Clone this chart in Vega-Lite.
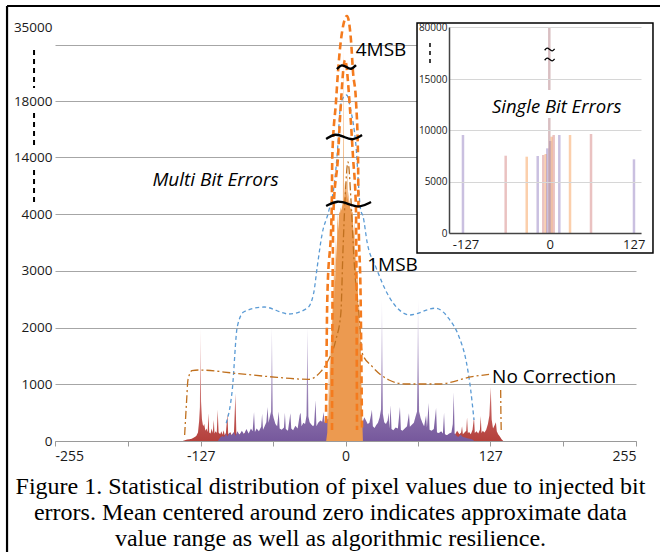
{
  "$schema": "https://vega.github.io/schema/vega-lite/v6.json",
  "width": 581,
  "height": 427,
  "padding": {"left": 55, "top": 14, "right": 24, "bottom": 111},
  "autosize": {"type": "none"},
  "background": "white",
  "config": {"view": {"stroke": null}, "font": "Open Sans", "axis": {"labelFont": "Open Sans"}},
  "title": {
    "text": ["Figure 1. Statistical distribution of pixel values due to injected bit", "errors. Mean centered around zero indicates approximate data", "value range as well as algorithmic resilience."],
    "orient": "bottom", "frame": "group", "anchor": "middle", "offset": -78, "dx": -15,
    "font": "Liberation Serif", "fontSize": 24, "fontWeight": "normal", "color": "black", "lineHeight": 26, "baseline": "top"
  },
  "datasets": {
    "red": [
      {"x": -143, "y": 0}, {"x": -141, "y": 15}, {"x": -139, "y": 25}, {"x": -137, "y": 30}, {"x": -135, "y": 40}, {"x": -133, "y": 60}, {"x": -131, "y": 90}, {"x": -129.5, "y": 150}, {"x": -128.5, "y": 350}, {"x": -127.8, "y": 600}, {"x": -127.3, "y": 2000}, {"x": -126.8, "y": 700}, {"x": -126, "y": 380}, {"x": -125, "y": 260}, {"x": -124, "y": 300}, {"x": -123, "y": 180}, {"x": -122, "y": 220}, {"x": -121, "y": 160}, {"x": -120.3, "y": 490}, {"x": -119.6, "y": 150}, {"x": -118.5, "y": 130}, {"x": -117.5, "y": 220}, {"x": -116.5, "y": 140}, {"x": -115.6, "y": 370}, {"x": -115, "y": 130}, {"x": -114, "y": 170}, {"x": -113, "y": 140}, {"x": -112.2, "y": 550}, {"x": -111.4, "y": 150}, {"x": -110, "y": 120}, {"x": -109, "y": 170}, {"x": -108, "y": 110}, {"x": -107, "y": 190}, {"x": -106, "y": 100}, {"x": -105, "y": 140}, {"x": -103.6, "y": 490}, {"x": -103, "y": 130}, {"x": -102, "y": 110}, {"x": -101, "y": 160}, {"x": -100, "y": 100}, {"x": -99, "y": 130}, {"x": -98, "y": 110}, {"x": -96.6, "y": 840}, {"x": -95.8, "y": 120}, {"x": -94, "y": 100}, {"x": -92, "y": 130}, {"x": -90, "y": 110}, {"x": -88, "y": 150}, {"x": -87, "y": 190}, {"x": -86, "y": 100}, {"x": -84, "y": 120}, {"x": -82, "y": 90}, {"x": -80, "y": 80}, {"x": -70, "y": 80}, {"x": -60, "y": 80}, {"x": -50, "y": 90}, {"x": -40, "y": 80}, {"x": -30, "y": 90}, {"x": -20, "y": 100}, {"x": 0, "y": 100}, {"x": 20, "y": 90}, {"x": 40, "y": 80}, {"x": 60, "y": 90}, {"x": 80, "y": 100}, {"x": 84, "y": 120}, {"x": 86, "y": 90}, {"x": 88, "y": 110}, {"x": 90, "y": 90}, {"x": 92, "y": 120}, {"x": 94, "y": 150}, {"x": 96, "y": 110}, {"x": 98, "y": 180}, {"x": 100, "y": 120}, {"x": 101.5, "y": 150}, {"x": 102.3, "y": 260}, {"x": 103, "y": 120}, {"x": 104.5, "y": 150}, {"x": 106, "y": 180}, {"x": 106.7, "y": 420}, {"x": 107.4, "y": 140}, {"x": 108.5, "y": 160}, {"x": 110, "y": 120}, {"x": 111.5, "y": 200}, {"x": 112.8, "y": 420}, {"x": 113.5, "y": 140}, {"x": 115, "y": 170}, {"x": 116.5, "y": 130}, {"x": 118, "y": 200}, {"x": 118.7, "y": 440}, {"x": 119.4, "y": 140}, {"x": 120.5, "y": 180}, {"x": 122, "y": 150}, {"x": 123.5, "y": 200}, {"x": 125, "y": 300}, {"x": 126.3, "y": 450}, {"x": 127.5, "y": 950}, {"x": 128.3, "y": 380}, {"x": 129.5, "y": 220}, {"x": 131, "y": 280}, {"x": 132, "y": 330}, {"x": 132.8, "y": 170}, {"x": 134, "y": 120}, {"x": 135.5, "y": 80}, {"x": 137, "y": 30}, {"x": 138.5, "y": 0}
    ],
    "purple": [
      {"x": -112, "y": 0}, {"x": -110, "y": 60}, {"x": -108, "y": 90}, {"x": -106.5, "y": 70}, {"x": -105, "y": 130}, {"x": -103.5, "y": 80}, {"x": -102, "y": 150}, {"x": -100, "y": 100}, {"x": -98, "y": 160}, {"x": -96.5, "y": 90}, {"x": -95, "y": 170}, {"x": -93, "y": 110}, {"x": -91, "y": 180}, {"x": -89, "y": 120}, {"x": -87, "y": 210}, {"x": -85, "y": 130}, {"x": -83, "y": 220}, {"x": -81.5, "y": 170}, {"x": -80.3, "y": 510}, {"x": -79.5, "y": 160}, {"x": -78, "y": 220}, {"x": -76, "y": 170}, {"x": -74, "y": 250}, {"x": -73.2, "y": 480}, {"x": -72.4, "y": 200}, {"x": -71, "y": 260}, {"x": -69.5, "y": 330}, {"x": -68.4, "y": 600}, {"x": -67.6, "y": 320}, {"x": -66.5, "y": 420}, {"x": -65.3, "y": 520}, {"x": -64.6, "y": 2000}, {"x": -63.9, "y": 480}, {"x": -63, "y": 400}, {"x": -61.5, "y": 300}, {"x": -60, "y": 260}, {"x": -58.6, "y": 520}, {"x": -57.8, "y": 220}, {"x": -56, "y": 200}, {"x": -54, "y": 240}, {"x": -53.2, "y": 500}, {"x": -52.4, "y": 210}, {"x": -50.5, "y": 180}, {"x": -48.4, "y": 490}, {"x": -47.6, "y": 220}, {"x": -46, "y": 190}, {"x": -44, "y": 270}, {"x": -42, "y": 220}, {"x": -40.2, "y": 460}, {"x": -39.4, "y": 500}, {"x": -38.6, "y": 260}, {"x": -37, "y": 320}, {"x": -35.5, "y": 300}, {"x": -34.2, "y": 450}, {"x": -33.4, "y": 2000}, {"x": -32.6, "y": 430}, {"x": -31.5, "y": 330}, {"x": -30, "y": 290}, {"x": -28.5, "y": 260}, {"x": -27.6, "y": 280}, {"x": -26.3, "y": 720}, {"x": -25.5, "y": 260}, {"x": -24, "y": 320}, {"x": -22, "y": 360}, {"x": -20.5, "y": 340}, {"x": -19.2, "y": 510}, {"x": -18.4, "y": 320}, {"x": -17, "y": 420}, {"x": -15.5, "y": 380}, {"x": -14, "y": 400}, {"x": 0, "y": 400}, {"x": 14, "y": 360}, {"x": 15, "y": 330}, {"x": 16.5, "y": 420}, {"x": 18, "y": 360}, {"x": 19.5, "y": 300}, {"x": 21, "y": 320}, {"x": 22.4, "y": 460}, {"x": 23.2, "y": 550}, {"x": 24, "y": 260}, {"x": 25.5, "y": 230}, {"x": 27, "y": 280}, {"x": 28.5, "y": 320}, {"x": 30, "y": 420}, {"x": 31.2, "y": 560}, {"x": 32, "y": 2500}, {"x": 32.8, "y": 480}, {"x": 34, "y": 330}, {"x": 35.5, "y": 300}, {"x": 37, "y": 360}, {"x": 37.8, "y": 500}, {"x": 38.6, "y": 220}, {"x": 39.6, "y": 630}, {"x": 40.4, "y": 210}, {"x": 42, "y": 190}, {"x": 44, "y": 240}, {"x": 46, "y": 220}, {"x": 47.8, "y": 600}, {"x": 48.6, "y": 200}, {"x": 50, "y": 180}, {"x": 52, "y": 220}, {"x": 54, "y": 260}, {"x": 55.7, "y": 490}, {"x": 56.5, "y": 250}, {"x": 58, "y": 280}, {"x": 60, "y": 320}, {"x": 61.5, "y": 430}, {"x": 62.8, "y": 520}, {"x": 63.7, "y": 2500}, {"x": 64.6, "y": 520}, {"x": 66, "y": 400}, {"x": 67.5, "y": 320}, {"x": 69, "y": 260}, {"x": 70.7, "y": 450}, {"x": 71.5, "y": 240}, {"x": 73, "y": 670}, {"x": 73.8, "y": 200}, {"x": 75.5, "y": 180}, {"x": 77.5, "y": 210}, {"x": 79.5, "y": 580}, {"x": 80.3, "y": 150}, {"x": 82, "y": 140}, {"x": 84, "y": 170}, {"x": 85.5, "y": 130}, {"x": 86.5, "y": 500}, {"x": 87.3, "y": 120}, {"x": 89, "y": 100}, {"x": 91, "y": 130}, {"x": 93, "y": 150}, {"x": 94.2, "y": 300}, {"x": 95, "y": 860}, {"x": 95.8, "y": 130}, {"x": 97.5, "y": 90}, {"x": 99, "y": 70}, {"x": 101, "y": 110}, {"x": 103, "y": 70}, {"x": 105, "y": 60}, {"x": 107, "y": 50}, {"x": 109, "y": 40}, {"x": 111, "y": 30}, {"x": 113, "y": 0}
    ],
    "orange": [
      {"x": -17, "y": 0}, {"x": -16, "y": 150}, {"x": -15.5, "y": 600}, {"x": -15.1, "y": 350}, {"x": -14.6, "y": 1200}, {"x": -14.1, "y": 700}, {"x": -13.6, "y": 1800}, {"x": -13.1, "y": 1200}, {"x": -12.6, "y": 2200}, {"x": -12.1, "y": 1500}, {"x": -11.6, "y": 2600}, {"x": -11.1, "y": 2000}, {"x": -10.6, "y": 3000}, {"x": -10.1, "y": 2400}, {"x": -9.6, "y": 3300}, {"x": -9.1, "y": 2800}, {"x": -8.4, "y": 3600}, {"x": -7.7, "y": 3200}, {"x": -7, "y": 4100}, {"x": -6.3, "y": 3700}, {"x": -5.6, "y": 4500}, {"x": -4.9, "y": 4000}, {"x": -4.2, "y": 5200}, {"x": -3.5, "y": 4600}, {"x": -2.8, "y": 6000}, {"x": -2.3, "y": 5200}, {"x": -1.9, "y": 30000}, {"x": -1.5, "y": 6000}, {"x": -1, "y": 7500}, {"x": -0.5, "y": 9500}, {"x": 0, "y": 8000}, {"x": 0.5, "y": 10000}, {"x": 1, "y": 7000}, {"x": 1.5, "y": 12000}, {"x": 2, "y": 6500}, {"x": 2.5, "y": 8000}, {"x": 3, "y": 5500}, {"x": 3.5, "y": 6500}, {"x": 4.2, "y": 4800}, {"x": 4.9, "y": 5200}, {"x": 5.6, "y": 4200}, {"x": 6.3, "y": 4400}, {"x": 7, "y": 3600}, {"x": 7.7, "y": 3900}, {"x": 8.4, "y": 3100}, {"x": 9.1, "y": 3400}, {"x": 9.8, "y": 2700}, {"x": 10.5, "y": 3000}, {"x": 11.2, "y": 2300}, {"x": 11.9, "y": 2500}, {"x": 12.6, "y": 1700}, {"x": 13.3, "y": 1900}, {"x": 13.8, "y": 1100}, {"x": 14.3, "y": 700}, {"x": 14.8, "y": 300}, {"x": 15.3, "y": 0}
    ],
    "curves": [
      {"c": "o1", "x": -17.1, "y": 317}, {"c": "o1", "x": -16, "y": 2485}, {"c": "o1", "x": -12.1, "y": 4702}, {"c": "o1", "x": -11.6, "y": 14000}, {"c": "o1", "x": -8.3, "y": 18000}, {"c": "o1", "x": -6.6, "y": 24667}, {"c": "o1", "x": -4, "y": 32023}, {"c": "o1", "x": 1.3, "y": 37540}, {"c": "o1", "x": 4.8, "y": 32023}, {"c": "o1", "x": 6.6, "y": 24667}, {"c": "o1", "x": 9.2, "y": 18000}, {"c": "o1", "x": 11, "y": 14000}, {"c": "o1", "x": 11.4, "y": 4702}, {"c": "o1", "x": 13.3, "y": 2485}, {"c": "o1", "x": 14.5, "y": 194},
      {"c": "o2", "x": -11.85, "y": 194}, {"c": "o2", "x": -11.4, "y": 2485}, {"c": "o2", "x": -10.5, "y": 4702}, {"c": "o2", "x": -6.6, "y": 14000}, {"c": "o2", "x": -4.4, "y": 17357}, {"c": "o2", "x": -0.4, "y": 27425}, {"c": "o2", "x": 4, "y": 17357}, {"c": "o2", "x": 6.6, "y": 14000}, {"c": "o2", "x": 9.2, "y": 4702}, {"c": "o2", "x": 9.7, "y": 2485}, {"c": "o2", "x": 10.1, "y": 194},
      {"c": "b", "x": -104.7, "y": 312}, {"c": "b", "x": -99.4, "y": 899}, {"c": "b", "x": -95, "y": 2014}, {"c": "b", "x": -89.1, "y": 2278}, {"c": "b", "x": -71.5, "y": 2361}, {"c": "b", "x": -49.6, "y": 2238}, {"c": "b", "x": -33.6, "y": 2340}, {"c": "b", "x": -28, "y": 2600}, {"c": "b", "x": -24.8, "y": 3071}, {"c": "b", "x": -20.4, "y": 3660}, {"c": "b", "x": -15, "y": 4300}, {"c": "b", "x": -10, "y": 9000}, {"c": "b", "x": -7, "y": 14500}, {"c": "b", "x": -4.8, "y": 17357}, {"c": "b", "x": -2, "y": 18800}, {"c": "b", "x": 1, "y": 19379}, {"c": "b", "x": 4.6, "y": 17357}, {"c": "b", "x": 9, "y": 14979}, {"c": "b", "x": 13.3, "y": 4702}, {"c": "b", "x": 15.4, "y": 3960}, {"c": "b", "x": 19.1, "y": 3489}, {"c": "b", "x": 26.5, "y": 3071}, {"c": "b", "x": 38.2, "y": 2543}, {"c": "b", "x": 51.4, "y": 2250}, {"c": "b", "x": 56.2, "y": 2220}, {"c": "b", "x": 78.9, "y": 2340}, {"c": "b", "x": 91, "y": 2150}, {"c": "b", "x": 99.6, "y": 1838}, {"c": "b", "x": 106, "y": 1400}, {"c": "b", "x": 109.9, "y": 899}, {"c": "b", "x": 112.8, "y": 370},
      {"c": "n", "x": -141.2, "y": 106}, {"c": "n", "x": -139.5, "y": 700}, {"c": "n", "x": -138.3, "y": 1075}, {"c": "n", "x": -134.8, "y": 1239}, {"c": "n", "x": -128.7, "y": 1251}, {"c": "n", "x": -96.6, "y": 1193}, {"c": "n", "x": -67.1, "y": 1134}, {"c": "n", "x": -32, "y": 1087}, {"c": "n", "x": -21.7, "y": 1222}, {"c": "n", "x": -15.8, "y": 1397}, {"c": "n", "x": -8.5, "y": 1780}, {"c": "n", "x": -4.1, "y": 2250}, {"c": "n", "x": -2.2, "y": 3366}, {"c": "n", "x": -0.4, "y": 6456}, {"c": "n", "x": 2.2, "y": 13122}, {"c": "n", "x": 4.8, "y": 6456}, {"c": "n", "x": 7.5, "y": 3190}, {"c": "n", "x": 11.9, "y": 2220}, {"c": "n", "x": 14.7, "y": 1545}, {"c": "n", "x": 23.5, "y": 1310}, {"c": "n", "x": 38.2, "y": 1075}, {"c": "n", "x": 52.8, "y": 1004}, {"c": "n", "x": 82, "y": 1004}, {"c": "n", "x": 111.3, "y": 1134}, {"c": "n", "x": 126, "y": 1175},
      {"c": "nB", "x": 136.2, "y": 900}, {"c": "nB", "x": 136.4, "y": 500}, {"c": "nB", "x": 136.7, "y": 160}
    ],
    "squig": [
      {"id": 1, "x": -7.5, "y": 25340}, {"id": 1, "x": -3.3, "y": 26500}, {"id": 1, "x": 0.85, "y": 25800}, {"id": 1, "x": 5, "y": 25100}, {"id": 1, "x": 9.2, "y": 26260},
      {"id": 2, "x": -17, "y": 15290}, {"id": 2, "x": -9.1, "y": 15700}, {"id": 2, "x": -1.25, "y": 15429}, {"id": 2, "x": 6.6, "y": 15160}, {"id": 2, "x": 14.5, "y": 15570},
      {"id": 3, "x": -17, "y": 5400}, {"id": 3, "x": -7.15, "y": 6450}, {"id": 3, "x": 2.7, "y": 5754}, {"id": 3, "x": 12.55, "y": 5050}, {"id": 3, "x": 22.4, "y": 6100}
    ],
    "breaks": [
      {"x": -273.4, "y": 29720, "y2": 20990}, {"x": -273.4, "y": 17140, "y2": 14786}, {"x": -273.4, "y": 11720, "y2": 5754}
    ],
    "frame": [
      {"x": -297.1, "x2": -297.1, "y": 39839, "y2": -1960}, {"x": -297.1, "x2": 277, "y": 39839, "y2": 39839}
    ],
    "ann": [
      {"label": "4MSB", "x": 31.2, "y": 29724}, {"label": "1MSB", "x": 41.3, "y": 3101}, {"label": "No Correction", "x": 183.1, "y": 1128}
    ],
    "annItalic": [
      {"label": "Multi Bit Errors", "x": -114.1, "y": 9965}
    ],
    "iframe": [
      {"x": -200.3, "x2": 156.1, "y": 85000, "y2": -1948}
    ],
    "ibars": [
      {"x": -130.9, "y": 0, "y2": 9545, "s": "1msb"}, {"x": -66.4, "y": 0, "y2": 7529, "s": "nc"}, {"x": -34.6, "y": 0, "y2": 7432, "s": "4msb"}, {"x": -18, "y": 0, "y2": 7500, "s": "1msb"}, {"x": -9.6, "y": 0, "y2": 7597, "s": "nc"}, {"x": -5.9, "y": 0, "y2": 7695, "s": "4msb"}, {"x": -3.5, "y": 0, "y2": 8247, "s": "1msb"}, {"x": 1, "y": 0, "y2": 8961, "s": "1msb"}, {"x": 3.1, "y": 0, "y2": 9380, "s": "4msb"}, {"x": 6.1, "y": 0, "y2": 9545, "s": "nc"}, {"x": 14.6, "y": 0, "y2": 9545, "s": "1msb"}, {"x": 30.8, "y": 0, "y2": 9545, "s": "4msb"}, {"x": 62.5, "y": 0, "y2": 9643, "s": "nc"}, {"x": 127.4, "y": 0, "y2": 7176, "s": "1msb"},
      {"x": -0.5, "y": 0, "y2": 11201, "s": "c"}, {"x": -0.5, "y": 13929, "y2": 80000, "s": "c"}
    ],
    "isquig": [
      {"id": 1, "x": -7.5, "y": 51000}, {"id": 1, "x": -3.75, "y": 54500}, {"id": 1, "x": 0, "y": 51875}, {"id": 1, "x": 3.75, "y": 49000}, {"id": 1, "x": 7.5, "y": 52700},
      {"id": 2, "x": -7.5, "y": 38500}, {"id": 2, "x": -3.75, "y": 42000}, {"id": 2, "x": 0, "y": 39375}, {"id": 2, "x": 3.75, "y": 36500}, {"id": 2, "x": 7.5, "y": 40200}
    ],
    "ibreak": [
      {"x": -180.7, "y": 60000, "y2": 35000}
    ],
    "ilabel": [
      {"label": "Single Bit Errors", "x": 10.7, "y": 12302}
    ]
  },
  "layer": [
    {
      "layer": [
        {
          "data": {"name": "red"},
          "mark": {"type": "area", "color": {"gradient": "linear", "x1": 0, "y1": 1, "x2": 0, "y2": 0, "stops": [{"offset": 0, "color": "#b4403c"}, {"offset": 0.25, "color": "#c25a57"}, {"offset": 1, "color": "#f2d4d3"}]}},
          "encoding": {
            "x": {"field": "x", "type": "quantitative", "title": null,
              "scale": {"domain": [-255, 255], "nice": false, "zero": false},
              "axis": {"values": [-255, -191, -127, -64, 0, 64, 127, 191, 255], "labelExpr": "datum.value == -191 || datum.value == -64 || datum.value == 64 || datum.value == 191 ? '' : (datum.value < 0 ? '-' + abs(datum.value) : '' + datum.value)", "grid": false, "domain": true, "domainColor": "#9a9a9a", "ticks": true, "tickSize": 5, "tickColor": "#9a9a9a", "labelFontSize": 14, "labelColor": "#1a1a1a", "labelPadding": 3, "labelFlush": true, "labelOverlap": false}},
            "y": {"field": "y", "type": "quantitative", "title": null, "stack": null,
              "scale": {"domain": [0, 4000, 14000, 18000, 38000], "range": [427, 200, 143, 87, 0], "nice": false, "zero": false},
              "axis": {"values": [0, 1000, 2000, 3000, 4000, 14000, 18000, 30865, 35000], "format": "d", "labelExpr": "datum.value > 30000 && datum.value < 31000 ? '' : datum.label", "grid": true, "gridColor": {"condition": {"test": "datum.value == 35000", "value": "transparent"}, "value": "#a6a6a6"}, "domain": false, "ticks": false, "labelFontSize": 13.5, "labelColor": "#1a1a1a", "labelPadding": 3, "labelOverlap": false}}
          }
        },
        {
          "data": {"name": "purple"},
          "mark": {"type": "area", "color": {"gradient": "linear", "x1": 0, "y1": 1, "x2": 0, "y2": 0, "stops": [{"offset": 0, "color": "#76589c"}, {"offset": 0.2, "color": "#8a70ab"}, {"offset": 1, "color": "#e4dcef"}]}},
          "encoding": {
            "x": {"field": "x", "type": "quantitative", "title": null},
            "y": {"field": "y", "type": "quantitative", "title": null, "stack": null}
          }
        },
        {
          "data": {"name": "orange"},
          "mark": {"type": "area", "color": "#ec9a50"},
          "encoding": {
            "x": {"field": "x", "type": "quantitative", "title": null},
            "y": {"field": "y", "type": "quantitative", "title": null, "stack": null}
          }
        },
        {
          "data": {"name": "curves"},
          "transform": [{"filter": "datum.c == 'b'"}],
          "mark": {"type": "line", "color": "#5b9bd5", "strokeWidth": 1.3, "strokeDash": [4, 3], "interpolate": "monotone"},
          "encoding": {
            "x": {"field": "x", "type": "quantitative", "title": null},
            "y": {"field": "y", "type": "quantitative", "title": null}
          }
        },
        {
          "data": {"name": "curves"},
          "transform": [{"filter": "datum.c == 'n'"}],
          "mark": {"type": "line", "color": "#c0701e", "strokeWidth": 1.3, "strokeDash": [8, 3, 2, 3], "interpolate": "monotone"},
          "encoding": {
            "x": {"field": "x", "type": "quantitative", "title": null},
            "y": {"field": "y", "type": "quantitative", "title": null}
          }
        },
        {
          "data": {"name": "curves"},
          "transform": [{"filter": "datum.c == 'nB'"}],
          "mark": {"type": "line", "color": "#c0701e", "strokeWidth": 1.3, "strokeDash": [8, 3, 2, 3]},
          "encoding": {
            "x": {"field": "x", "type": "quantitative", "title": null},
            "y": {"field": "y", "type": "quantitative", "title": null}
          }
        },
        {
          "data": {"name": "curves"},
          "transform": [{"filter": "datum.c == 'o1' || datum.c == 'o2'"}],
          "mark": {"type": "line", "color": "#f47b1e", "strokeWidth": 2.6, "strokeDash": [7, 4], "interpolate": "monotone"},
          "encoding": {
            "x": {"field": "x", "type": "quantitative", "title": null},
            "y": {"field": "y", "type": "quantitative", "title": null},
            "detail": {"field": "c"}
          }
        },
        {
          "data": {"name": "squig"},
          "mark": {"type": "line", "color": "black", "strokeWidth": 2.4, "interpolate": "basis"},
          "encoding": {
            "x": {"field": "x", "type": "quantitative", "title": null},
            "y": {"field": "y", "type": "quantitative", "title": null},
            "detail": {"field": "id"}
          }
        },
        {
          "data": {"name": "breaks"},
          "mark": {"type": "rule", "color": "black", "strokeWidth": 2, "strokeDash": [5, 4]},
          "encoding": {
            "x": {"field": "x", "type": "quantitative", "title": null},
            "y": {"field": "y", "type": "quantitative", "title": null},
            "y2": {"field": "y2"}
          }
        },
        {
          "data": {"name": "frame"},
          "mark": {"type": "rule", "color": "black", "strokeWidth": 2.2},
          "encoding": {
            "x": {"field": "x", "type": "quantitative", "title": null},
            "x2": {"field": "x2"},
            "y": {"field": "y", "type": "quantitative", "title": null},
            "y2": {"field": "y2"}
          }
        },
        {
          "data": {"name": "ann"},
          "mark": {"type": "text", "font": "Open Sans", "fontSize": 19, "color": "black", "align": "center", "baseline": "middle"},
          "encoding": {
            "x": {"field": "x", "type": "quantitative", "title": null},
            "y": {"field": "y", "type": "quantitative", "title": null},
            "text": {"field": "label"}
          }
        },
        {
          "data": {"name": "annItalic"},
          "mark": {"type": "text", "font": "Open Sans", "fontSize": 19, "fontStyle": "italic", "color": "black", "align": "center", "baseline": "middle"},
          "encoding": {
            "x": {"field": "x", "type": "quantitative", "title": null},
            "y": {"field": "y", "type": "quantitative", "title": null},
            "text": {"field": "label"}
          }
        }
      ]
    },
    {
      "layer": [
        {
          "data": {"name": "iframe"},
          "mark": {"type": "rect", "fill": "white", "stroke": "black", "strokeWidth": 1.5},
          "encoding": {
            "x": {"field": "x", "type": "quantitative", "title": null,
              "scale": {"domain": [-152, 138], "range": [394, 586], "nice": false, "zero": false},
              "axis": {"orient": "bottom", "offset": -208, "values": [-127, 0, 127], "labelExpr": "datum.value < 0 ? '-' + abs(datum.value) : '' + datum.value", "grid": false, "ticks": false, "domainColor": "#444444", "domainWidth": 1.5, "labelFontSize": 13, "labelColor": "#1a1a1a", "labelPadding": 5, "labelFlush": false, "labelOverlap": false, "zindex": 1}},
            "x2": {"field": "x2"},
            "y": {"field": "y", "type": "quantitative", "title": null,
              "scale": {"domain": [0, 15000, 80000], "range": [219, 65, 13], "nice": false, "zero": false},
              "axis": {"orient": "left", "offset": -394, "values": [0, 5000, 10000, 15000, 80000], "format": "d", "grid": true, "gridColor": "#d6d6d6", "ticks": false, "domainColor": "#444444", "domainWidth": 1.5, "labelFontSize": 10, "labelColor": "#1a1a1a", "labelPadding": 2, "labelOverlap": false, "zindex": 1}},
            "y2": {"field": "y2"}
          }
        },
        {
          "data": {"name": "ibars"},
          "mark": {"type": "rule", "strokeWidth": 2.5, "opacity": 0.55},
          "encoding": {
            "x": {"field": "x", "type": "quantitative", "title": null},
            "y": {"field": "y", "type": "quantitative", "title": null},
            "y2": {"field": "y2"},
            "color": {"field": "s", "type": "nominal", "legend": null, "scale": {"domain": ["nc", "1msb", "4msb", "c"], "range": ["#d9908e", "#9f8cc6", "#f7a868", "#b98a90"]}}
          }
        },
        {
          "data": {"name": "isquig"},
          "mark": {"type": "line", "color": "black", "strokeWidth": 1.3, "interpolate": "basis"},
          "encoding": {
            "x": {"field": "x", "type": "quantitative", "title": null},
            "y": {"field": "y", "type": "quantitative", "title": null},
            "detail": {"field": "id"}
          }
        },
        {
          "data": {"name": "ibreak"},
          "mark": {"type": "rule", "color": "black", "strokeWidth": 1.5, "strokeDash": [4, 4]},
          "encoding": {
            "x": {"field": "x", "type": "quantitative", "title": null},
            "y": {"field": "y", "type": "quantitative", "title": null},
            "y2": {"field": "y2"}
          }
        },
        {
          "data": {"name": "ilabel"},
          "mark": {"type": "text", "font": "Open Sans", "fontSize": 18.5, "fontStyle": "italic", "color": "black", "align": "center", "baseline": "middle"},
          "encoding": {
            "x": {"field": "x", "type": "quantitative", "title": null},
            "y": {"field": "y", "type": "quantitative", "title": null},
            "text": {"field": "label"}
          }
        }
      ]
    }
  ],
  "resolve": {"scale": {"x": "independent", "y": "independent", "color": "independent"}, "axis": {"x": "independent", "y": "independent"}}
}
